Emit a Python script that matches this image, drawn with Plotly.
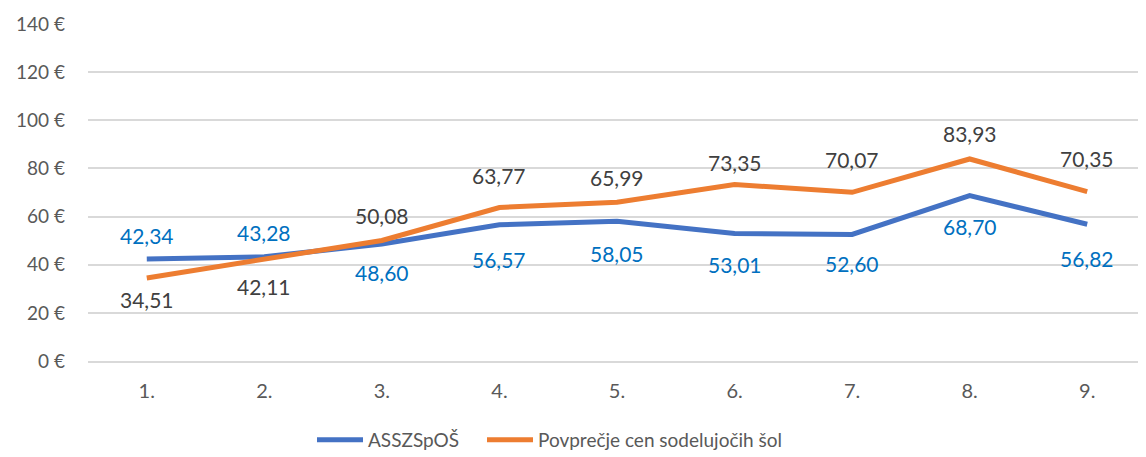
import plotly.graph_objects as go

categories = ["1.", "2.", "3.", "4.", "5.", "6.", "7.", "8.", "9."]
assz_values = [42.34, 43.28, 48.60, 56.57, 58.05, 53.01, 52.60, 68.70, 56.82]
avg_values = [34.51, 42.11, 50.08, 63.77, 65.99, 73.35, 70.07, 83.93, 70.35]
y_ticks = [0, 20, 40, 60, 80, 100, 120, 140]

series_names = ["ASSZSpOŠ", "Povprečje cen sodelujočih šol"]
line_colors = ["#4472C4", "#ED7D31"]
label_colors = ["#0070C0", "#404040"]
# label offsets in pixels (positive = downwards from the point)
assz_label_shift = [-24, -24, 28, 35, 32, 31, 29, 31, 34]
avg_label_shift = [22, 27, -25, -32, -25, -22, -33, -25, -33]

FONT = "Lato"
idx = list(range(len(categories)))

# page body has an 8px margin; figure is sized to fit the 1146x457 window
W, H = 1138, 449

fig = go.Figure()
for name, vals, col, lg in zip(series_names, [assz_values, avg_values],
                               line_colors, ["legend", "legend2"]):
    fig.add_trace(go.Scatter(
        x=idx, y=vals, name=name, mode="lines", legend=lg,
        line=dict(color=col, width=5), hoverinfo="skip",
    ))

annotations = []
for vals, shifts, col in [(assz_values, assz_label_shift, label_colors[0]),
                          (avg_values, avg_label_shift, label_colors[1])]:
    for i, v, s in zip(idx, vals, shifts):
        annotations.append(dict(
            x=i, y=v, xref="x", yref="y",
            text=f"{v:.2f}".replace(".", ","),
            showarrow=False, yshift=-s,
            font=dict(family=FONT, size=21, color=col),
        ))

legend_common = dict(
    orientation="h", xref="container", yref="container",
    xanchor="left", y=1 - 432 / H, yanchor="middle",
    font=dict(family=FONT, size=19, color="#595959"),
    itemwidth=46, bgcolor="rgba(0,0,0,0)",
)

fig.update_layout(
    template="none",
    width=W, height=H,
    margin=dict(l=80, r=0, t=16, b=96, autoexpand=False),
    paper_bgcolor="white", plot_bgcolor="white",
    font=dict(family=FONT, size=20, color="#595959"),
    annotations=annotations,
    showlegend=True,
    legend=dict(x=304 / W, **legend_common),
    legend2=dict(x=474 / W, **legend_common),
    xaxis=dict(
        range=[-0.5, len(categories) - 0.5],
        tickvals=idx, ticktext=categories,
        showgrid=False, zeroline=False,
        showline=True, linecolor="#D9D9D9", linewidth=2,
        ticks="", ticklabelstandoff=11, automargin=False,
        tickfont=dict(family=FONT, size=20, color="#595959"),
        fixedrange=True,
    ),
    yaxis=dict(
        range=[0, 140], tickvals=y_ticks,
        ticktext=[f"{v} €" for v in y_ticks],
        showgrid=True, gridcolor="#D9D9D9", gridwidth=2,
        zeroline=False, showline=False, ticks="",
        ticklabelstandoff=22, automargin=False,
        tickfont=dict(family=FONT, size=19, color="#595959"),
        fixedrange=True,
    ),
)

fig.write_html("out.html")
